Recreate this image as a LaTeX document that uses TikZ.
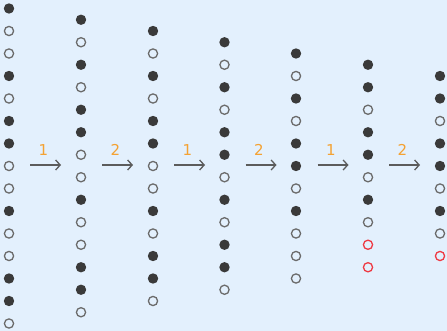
\documentclass[tikz,border=0pt]{standalone}
\usepackage{fontspec}
\setmainfont{DejaVu Sans}
\usetikzlibrary{arrows.meta,positioning}
\definecolor{paper}{HTML}{E3F0FD}
\definecolor{ink}{HTML}{3A3A3A}
\definecolor{rim}{HTML}{6B6B6B}
\definecolor{alert}{HTML}{EE3A44}
\definecolor{amber}{HTML}{F4A233}
\definecolor{muted}{HTML}{5C5C5C}

\begin{document}
\begin{tikzpicture}[
  x=1pt, y=-1pt,
  bead/.style={circle, fill=ink, inner sep=0pt, minimum size=10.4pt},
  ring/.style={circle, draw=rim, line width=1.3pt, inner sep=0pt, minimum size=9.2pt},
  badring/.style={ring, draw=alert},
  arrow/.style={-{Straight Barb[length=4.5pt,width=10pt]}, draw=muted, line width=1.3pt},
  step label/.style={above=9pt, inner sep=0pt, xshift=-2pt, text=amber, font=\fontsize{15}{18}\selectfont}
]
\fill[paper] (0,0) rectangle (447,331);
\foreach \kind [count=\i] in {bead,ring,ring,bead,ring,bead,bead,ring,ring,bead,ring,ring,bead,bead,ring}
  \node[\kind] (a\i) at (9, {166+(\i-8)*22.5}) {};
\foreach \kind [count=\i] in {bead,ring,bead,ring,bead,bead,ring,ring,bead,ring,ring,bead,bead,ring}
  \node[\kind] (b\i) at (81, {166+(\i-7.5)*22.5}) {};
\foreach \kind [count=\i] in {bead,ring,bead,ring,bead,bead,ring,ring,bead,ring,bead,bead,ring}
  \node[\kind] (c\i) at (153, {166+(\i-7)*22.5}) {};
\foreach \kind [count=\i] in {bead,ring,bead,ring,bead,bead,ring,bead,ring,bead,bead,ring}
  \node[\kind] (d\i) at (224.5, {166+(\i-6.5)*22.5}) {};
\foreach \kind [count=\i] in {bead,ring,bead,ring,bead,bead,ring,bead,ring,ring,ring}
  \node[\kind] (e\i) at (296, {166+(\i-6)*22.5}) {};
\foreach \kind [count=\i] in {bead,bead,ring,bead,bead,ring,bead,ring,badring,badring}
  \node[\kind] (f\i) at (368, {166+(\i-5.5)*22.5}) {};
\foreach \kind [count=\i] in {bead,bead,ring,bead,bead,ring,bead,ring,badring}
  \node[\kind] (g\i) at (440, {166+(\i-5)*22.5}) {};
\foreach \n/\x/\lab in {1/30/1, 2/102/2, 3/174/1, 4/245.5/2, 5/317.5/1, 6/389/2} {
  \coordinate (s\n) at (\x, 165);
  \coordinate (t\n) at (\x+31, 165);
  \draw[arrow] (s\n) -- (t\n) node[midway, step label] {\lab};
}
\end{tikzpicture}
\end{document}
